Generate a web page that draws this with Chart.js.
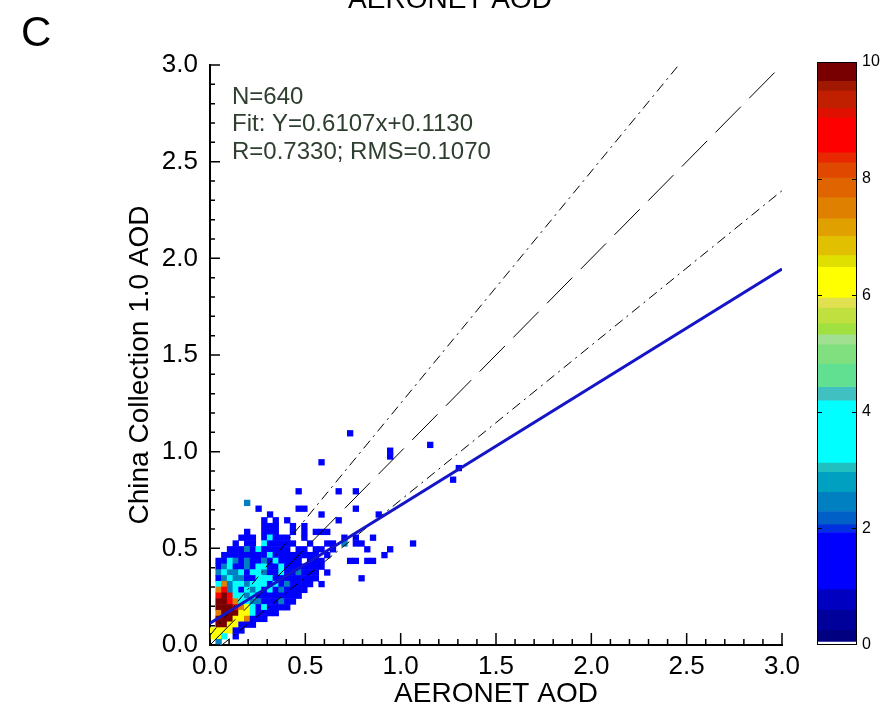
<!DOCTYPE html>
<html>
<head>
<meta charset="utf-8">
<script src="https://cdn.jsdelivr.net/npm/chart.js@4.4.1/dist/chart.umd.min.js"></script>
<style>
  html, body { margin: 0; padding: 0; background: #fff; }
  #wrap { position: relative; width: 889px; height: 714px; overflow: hidden; }
  #main { position: absolute; left: 0; top: 0; }
  #cbar { position: absolute; left: 800px; top: 40px; }
</style>
</head>
<body>
<div id="wrap">
  <canvas id="main" width="889" height="714"></canvas>
  <canvas id="cbar" width="89" height="630"></canvas>
</div>
<script>
// density grid: bins of 0.03 AOD, first string is the top row (ROW_TOP)
const BIN = 0.03;
const ROW_TOP = 36;
const densityRows = [
  "........................b",
  "",
  "......................................b",
  "...............................b",
  "...............................b",
  "...................b",
  "...........................................b",
  "",
  "..........................................b",
  "",
  "...............b......b..b",
  "",
  "......t",
  "........b......bb........b",
  "..........b........b.........b",
  ".........b.b.b........b",
  ".........bbb..b.b",
  "......b..bbb..b.b.bbb",
  ".....bbb.bcbbb..b......b.b..b",
  "....b.bb.cbbbbb..b..bb.t.bb........b",
  "...bbbtbcbbbbb.bb.bb.b.....b...b",
  "..bbbbbbbbcbbbbbbbb.b.........b",
  ".bbctbtbbtbcbbbb.bbb....bb.bb",
  ".btcbbtbccbbcbbbbbbb",
  ".tcttcbcctbbcbbtbbb.b",
  ".btcttbbcccbbbbbbbb.......b",
  ".cotcctcccbcbtbbbb.b",
  ".ortcbctcbcbtbbbb",
  ".rkrcctcbbbbbbbb",
  ".kkroccttbbbtbb",
  ".kkkroycbcbbbb",
  ".okkkyycbbbb",
  ".kkkyyobbb",
  ".kkyybbb",
  "yyyybb",
  "yyc.b",
  ".t"
];
const levelValue = { b: 1.4, t: 2.4, c: 3.6, g: 5.0, y: 6.2, o: 7.5, r: 8.8, k: 9.8 };

// colour bar levels
const cbEdges = [0, 0.05, 0.25, 0.6, 0.95, 1.93, 2.06, 2.29, 2.62, 2.96, 3.12, 4.19, 4.42, 4.82, 5.15, 5.32,
  5.51, 5.78, 5.95, 6.48, 6.68, 7.01, 7.31, 7.67, 8.01, 8.27, 8.44, 9.04, 9.2, 9.5, 9.67, 10];
const cbColors = ['#ffffff', '#000080', '#00009a', '#0000c0', '#0000ff', '#0030e0', '#0060c8', '#0080c0',
  '#00a0c0', '#20c0c0', '#00ffff', '#40c0c0', '#60e090', '#80e080', '#a0e090', '#a0e040', '#c0e040',
  '#e0e050', '#ffff00', '#e0e000', '#e0c000', '#e0a000', '#e08000', '#e06400', '#e04800', '#e82800',
  '#ff0000', '#e01000', '#c02000', '#a01800', '#780000'];
const cbTicks = [0, 2, 4, 6, 8, 10];

// statistics
const nPoints = 640;
const fitSlope = 0.6107;
const fitIntercept = 0.1130;
const corrR = 0.7330;
const rms = 0.1070;
const eeOffset = 0.05;   // expected error +-(0.05 + 0.2*AOD)
const eeSlope = 0.2;
const axisMax = 3;

const FONT = '"Liberation Sans", Arial, sans-serif';

function colorFor(v) {
  for (let k = 0; k < cbColors.length; k++) {
    if (v >= cbEdges[k] && v < cbEdges[k + 1]) return cbColors[k];
  }
  return cbColors[cbColors.length - 1];
}

const cells = [];
densityRows.forEach((row, k) => {
  const j = ROW_TOP - k;
  [...row].forEach((ch, i) => {
    if (ch === '.') return;
    cells.push({ x: (i + 0.5) * BIN, y: (j + 0.5) * BIN, v: levelValue[ch] });
  });
});

const decorPlugin = {
  id: "decor",
  afterDraw: (chart) => {
    const { ctx, scales } = chart;
    const xs = scales.x, ys = scales.y;
    const x0 = xs.getPixelForValue(0), y0 = ys.getPixelForValue(0);
    ctx.save();
    ctx.strokeStyle = "#000";
    ctx.lineWidth = 1.5;
    ctx.beginPath();
    for (let k = 0; k <= 30; k++) {
      const v = k / 10;
      const len = k % 5 === 0 ? 12 : 6;
      const px = xs.getPixelForValue(v);
      ctx.moveTo(px, y0);
      ctx.lineTo(px, y0 - len);
      const py = ys.getPixelForValue(v);
      ctx.moveTo(x0, py);
      ctx.lineTo(x0 + (k % 5 === 0 ? 10 : 5), py);
    }
    ctx.stroke();

    ctx.fillStyle = "#000";
    ctx.font = "42px " + FONT;
    ctx.textAlign = "left";
    ctx.textBaseline = "alphabetic";
    ctx.fillText("C", 21, 46);

    ctx.font = "28px " + FONT;
    ctx.textAlign = "center";
    ctx.fillText("AERONET AOD", 450, 8);

    // y axis title
    ctx.save();
    ctx.translate(140, 365);
    ctx.rotate(-Math.PI / 2);
    ctx.textBaseline = "middle";
    ctx.fillText("China Collection 1.0 AOD", 0, 0);
    ctx.restore();

    ctx.fillStyle = "#2f3f2f";
    ctx.font = "24px " + FONT;
    ctx.textAlign = "left";
    ctx.textBaseline = "middle";
    ctx.fillText("N=" + nPoints, 232, 97);
    ctx.fillText("Fit: Y=" + fitSlope.toFixed(4) + "x+" + fitIntercept.toFixed(4), 232, 124);
    ctx.fillText("R=" + corrR.toFixed(4) + "; RMS=" + rms.toFixed(4), 232, 152);
    ctx.restore();
  },
};

new Chart(document.getElementById("main"), {
  type: "scatter",
  data: {
    datasets: [
      {
        label: "fit",
        type: "line",
        data: [{ x: 0, y: fitIntercept }, { x: axisMax, y: fitSlope * axisMax + fitIntercept }],
        borderColor: "#1414c8",
        borderWidth: 3,
        pointRadius: 0,
        order: 0,
      },
      {
        label: "1:1",
        type: "line",
        data: [{ x: 0, y: 0 }, { x: axisMax, y: axisMax }],
        borderColor: "#000",
        borderWidth: 1,
        borderDash: [36, 12],
        pointRadius: 0,
        order: 1,
      },
      {
        label: "EE upper",
        type: "line",
        data: [{ x: 0, y: eeOffset }, { x: (axisMax - eeOffset) / (1 + eeSlope), y: axisMax }],
        borderColor: "#000",
        borderWidth: 1,
        borderDash: [10, 5, 2, 5],
        pointRadius: 0,
        order: 2,
      },
      {
        label: "EE lower",
        type: "line",
        data: [{ x: eeOffset / (1 - eeSlope), y: 0 }, { x: axisMax, y: (1 - eeSlope) * axisMax - eeOffset }],
        borderColor: "#000",
        borderWidth: 1,
        borderDash: [10, 5, 2, 5],
        pointRadius: 0,
        order: 3,
      },
      {
        label: "density",
        data: cells,
        pointStyle: "rect",
        borderWidth: 0,
        backgroundColor: (c) => (c.raw ? colorFor(c.raw.v) : "#00f"),
        pointRadius: (c) => {
          const s = c.chart.scales.x;
          return (s.getPixelForValue(BIN) - s.getPixelForValue(0) + 0.6) / 2 / Math.SQRT1_2;
        },
        order: 10,
      },
    ],
  },
  options: {
    responsive: false,
    animation: false,
    events: [],
    layout: { padding: { left: 0, top: 65, right: 107, bottom: 0 } },
    plugins: { legend: { display: false }, tooltip: { enabled: false } },
    scales: {
      x: {
        type: "linear",
        min: 0,
        max: axisMax,
        afterFit: (s) => { s.height = 69; },
        grid: { display: false, drawTicks: false },
        border: { display: true, color: "#000", width: 2 },
        ticks: {
          stepSize: 0.5,
          padding: 6,
          color: "#000",
          maxRotation: 0,
          font: { family: FONT, size: 26 },
          callback: (v) => v.toFixed(1),
        },
        title: { display: true, text: "AERONET AOD", color: "#000", font: { family: FONT, size: 28 }, padding: { top: 0, bottom: 3 } },
      },
      y: {
        type: "linear",
        min: 0,
        max: axisMax,
        afterFit: (s) => { s.width = 210; },
        grid: { display: false, drawTicks: false },
        border: { display: true, color: "#000", width: 2 },
        ticks: {
          stepSize: 0.5,
          padding: 12,
          color: "#000",
          font: { family: FONT, size: 26 },
          callback: (v) => v.toFixed(1),
        },
      },
    },
  },
  plugins: [decorPlugin],
});

const cbFramePlugin = {
  id: "cbFrame",
  afterDraw: (chart) => {
    const { ctx, chartArea: a, scales } = chart;
    ctx.save();
    ctx.strokeStyle = "#000";
    ctx.lineWidth = 1;
    ctx.strokeRect(a.left + 0.5, a.top + 0.5, a.right - a.left - 1, a.bottom - a.top - 1);
    ctx.beginPath();
    cbTicks.slice(1, -1).forEach((t) => {
      const py = Math.round(scales.y.getPixelForValue(t)) + 0.5;
      ctx.moveTo(a.left, py); ctx.lineTo(a.left + 5, py);
      ctx.moveTo(a.right - 5, py); ctx.lineTo(a.right, py);
    });
    ctx.stroke();
    ctx.restore();
  },
};

new Chart(document.getElementById("cbar"), {
  type: "bar",
  data: {
    labels: [""],
    datasets: cbColors.map((c, k) => ({
      data: [[cbEdges[k], cbEdges[k + 1]]],
      backgroundColor: c,
      borderWidth: 0,
      barPercentage: 1,
      categoryPercentage: 1,
      grouped: false,
    })),
  },
  options: {
    responsive: false,
    animation: false,
    events: [],
    layout: { padding: { left: 17, top: 22, right: 0, bottom: 25 } },
    plugins: { legend: { display: false }, tooltip: { enabled: false } },
    scales: {
      x: { display: false },
      y: {
        position: "right",
        min: 0,
        max: 10,
        afterFit: (s) => { s.width = 32; },
        afterBuildTicks: (s) => { s.ticks = cbTicks.map((v) => ({ value: v })); },
        grid: { display: false, drawTicks: false },
        border: { display: false },
        ticks: { padding: 5, color: "#000", font: { family: FONT, size: 16 } },
      },
    },
  },
  plugins: [cbFramePlugin],
});
</script>
</body>
</html>
